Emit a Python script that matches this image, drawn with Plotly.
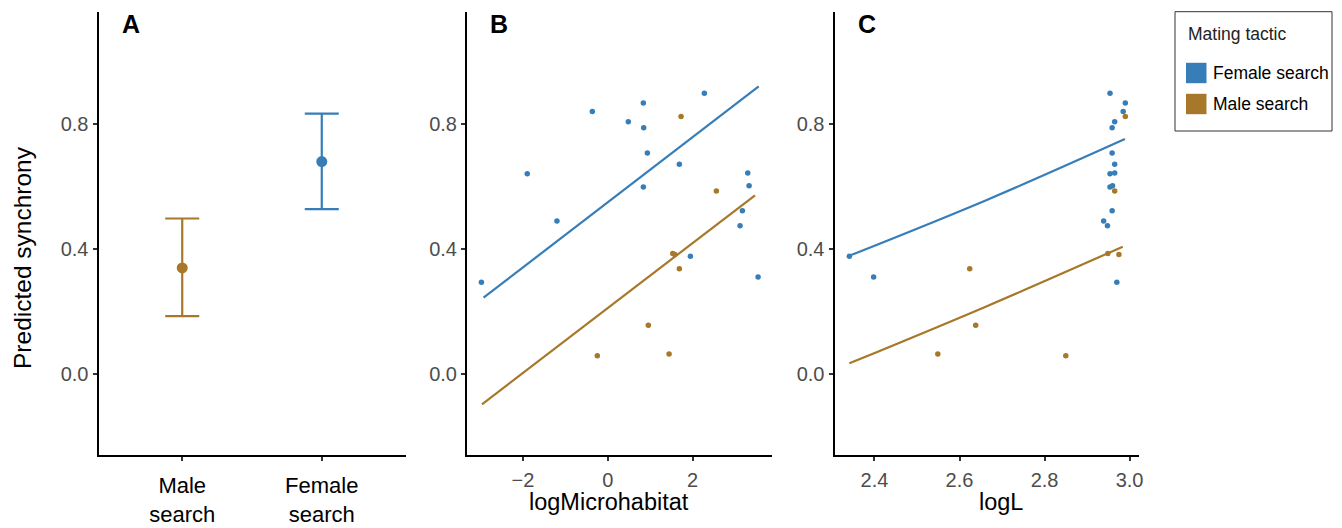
import plotly.graph_objects as go

# ---------------- data ----------------
tactics = ["Male search", "Female search"]
tactic_labels = ["Male<br>search", "Female<br>search"]
pred_mean = [0.339, 0.679]
pred_lo = [0.185, 0.527]
pred_hi = [0.497, 0.832]

# female-search species: synchrony, logMicrohabitat, logL
sync_female = [0.897, 0.866, 0.839, 0.806, 0.787, 0.706, 0.670, 0.642, 0.640,
               0.602, 0.598, 0.522, 0.489, 0.474, 0.376, 0.310, 0.293]
micro_female = [2.276, 0.837, -0.366, 0.483, 0.845, 0.932, 1.686, 3.298, -1.90,
                3.33, 0.837, 3.172, -1.20, 3.117, 1.946, 3.542, -2.98]
logl_female = [2.954, 2.990, 2.985, 2.965, 2.959, 2.959, 2.965, 2.965, 2.954,
               2.960, 2.954, 2.959, 2.939, 2.948, 2.341, 2.398, 2.970]

# male-search species
sync_male = [0.823, 0.585, 0.385, 0.382, 0.336, 0.156, 0.064, 0.058]
micro_male = [1.726, 2.559, 1.53, 1.58, 1.686, 0.955, 1.443, -0.248]
logl_male = [2.990, 2.965, 2.949, 2.975, 2.624, 2.638, 2.549, 2.850]

# fitted lines (panel B)
fit_b_x_female = [-2.93, 3.557]
fit_b_y_female = [0.244, 0.919]
fit_b_x_male = [-2.967, 3.47]
fit_b_y_male = [-0.097, 0.571]
# fitted lines (panel C)
fit_c_x_female = [2.341, 2.667, 2.989]
fit_c_y_female = [0.378, 0.558, 0.751]
fit_c_x_male = [2.341, 2.663, 2.984]
fit_c_y_male = [0.034, 0.216, 0.407]

y_ticks = [0.0, 0.4, 0.8]
y_ticktext = ["0.0", "0.4", "0.8"]
b_ticks = [-2, 0, 2]
b_ticktext = ["\u22122", "0", "2"]
c_ticks = [2.4, 2.6, 2.8, 3.0]
c_ticktext = ["2.4", "2.6", "2.8", "3.0"]

BLUE = "#377EB8"
BROWN = "#A8782A"
colors = {"Male search": BROWN, "Female search": BLUE}

# ---------------- layout helpers ----------------
OFF = 8  # page body margin (top/left)
W, H = 1342 - OFF, 528 - OFF
FONT = "Liberation Sans, Arial, sans-serif"


def px(x):
    return (x - OFF) / W


def py(y):
    return 1 - (y - OFF) / H


panels = {"A": (98.5, 405.5), "B": (467.0, 772.0), "C": (834.5, 1138.5)}
Y_TOP, Y_BOT = 12.0, 455.0
y_dom = [py(Y_BOT), py(Y_TOP)]
y_range = [-0.259, 1.157]

fig = go.Figure()

# Panel A
for i, t in enumerate(tactics):
    fig.add_trace(go.Scatter(
        x=[t], y=[pred_mean[i]], mode="markers",
        marker=dict(color=colors[t], size=11),
        error_y=dict(type="data", symmetric=False,
                     array=[pred_hi[i] - pred_mean[i]],
                     arrayminus=[pred_mean[i] - pred_lo[i]],
                     color=colors[t], thickness=2.2, width=17),
        xaxis="x", yaxis="y", showlegend=False, hoverinfo="skip"))

# Panel B
fig.add_trace(go.Scatter(x=fit_b_x_female, y=fit_b_y_female, mode="lines",
                         line=dict(color=BLUE, width=2.2), xaxis="x2", yaxis="y2", showlegend=False))
fig.add_trace(go.Scatter(x=fit_b_x_male, y=fit_b_y_male, mode="lines",
                         line=dict(color=BROWN, width=2.2), xaxis="x2", yaxis="y2", showlegend=False))
fig.add_trace(go.Scatter(x=micro_female, y=sync_female, mode="markers",
                         marker=dict(color=BLUE, size=5.5), xaxis="x2", yaxis="y2", showlegend=False))
fig.add_trace(go.Scatter(x=micro_male, y=sync_male, mode="markers",
                         marker=dict(color=BROWN, size=5.5), xaxis="x2", yaxis="y2", showlegend=False))

# Panel C
fig.add_trace(go.Scatter(x=fit_c_x_female, y=fit_c_y_female, mode="lines", line_shape="spline",
                         line=dict(color=BLUE, width=2.2), xaxis="x3", yaxis="y3", showlegend=False))
fig.add_trace(go.Scatter(x=fit_c_x_male, y=fit_c_y_male, mode="lines", line_shape="spline",
                         line=dict(color=BROWN, width=2.2), xaxis="x3", yaxis="y3", showlegend=False))
fig.add_trace(go.Scatter(x=logl_female, y=sync_female, mode="markers",
                         marker=dict(color=BLUE, size=5.5), xaxis="x3", yaxis="y3", showlegend=False))
fig.add_trace(go.Scatter(x=logl_male, y=sync_male, mode="markers",
                         marker=dict(color=BROWN, size=5.5), xaxis="x3", yaxis="y3", showlegend=False))

axis_common = dict(showline=True, linecolor="black", linewidth=2, showgrid=False, zeroline=False,
                   ticks="outside", ticklen=4, tickwidth=2, tickcolor="#333333", automargin=False)
tickfont = dict(family=FONT, size=20, color="#4d4d4d")


def ydict(anchor):
    return dict(axis_common, domain=y_dom, range=y_range, tickvals=y_ticks, ticktext=y_ticktext,
                tickfont=tickfont, anchor=anchor)


fig.update_layout(
    width=W, height=H,
    margin=dict(l=0, r=0, t=0, b=0, autoexpand=False),
    paper_bgcolor="white", plot_bgcolor="white",
    font=dict(family=FONT),
    xaxis=dict(axis_common, domain=[px(panels["A"][0]), px(panels["A"][1])], type="category",
               range=[-0.6, 1.6], tickvals=tactics, ticktext=tactic_labels, ticklabelstandoff=6,
               tickfont=dict(family=FONT, size=22, color="black"), anchor="y"),
    yaxis=ydict("x"),
    xaxis2=dict(axis_common, domain=[px(panels["B"][0]), px(panels["B"][1])],
                range=[-3.32, 3.87], tickvals=b_ticks, ticktext=b_ticktext, ticklabelstandoff=2,
                tickfont=tickfont, anchor="y2"),
    yaxis2=ydict("x2"),
    xaxis3=dict(axis_common, domain=[px(panels["C"][0]), px(panels["C"][1])],
                range=[2.306, 3.021], tickvals=c_ticks, ticktext=c_ticktext, ticklabelstandoff=2,
                tickfont=tickfont, anchor="y3"),
    yaxis3=ydict("x3"),
)

ann = []
# panel letters
for k, (x0, x1) in panels.items():
    ann.append(dict(text=f"<b>{k}</b>", x=px(x0 + 21), y=py(23.5), xref="paper", yref="paper",
                    xanchor="left", yanchor="middle", showarrow=False,
                    font=dict(family=FONT, size=25, color="black")))
# axis titles
ann.append(dict(text="Predicted synchrony", x=px(22), y=py(258), xref="paper", yref="paper",
                textangle=-90, showarrow=False, xanchor="center", yanchor="middle",
                font=dict(family=FONT, size=24.5, color="black")))
ann.append(dict(text="logMicrohabitat", x=px(608.7), y=py(502),
                xref="paper", yref="paper", showarrow=False, xanchor="center", yanchor="middle",
                font=dict(family=FONT, size=23.5, color="black")))
ann.append(dict(text="logL", x=px(1001), y=py(502),
                xref="paper", yref="paper", showarrow=False, xanchor="center", yanchor="middle",
                font=dict(family=FONT, size=23.5, color="black")))
# legend
ann.append(dict(text="Mating tactic", x=px(1186), y=py(33.5), xref="paper", yref="paper",
                showarrow=False, xanchor="left", yanchor="middle",
                font=dict(family=FONT, size=17.5, color="#222222")))
legend_items = [("Female search", BLUE, 73), ("Male search", BROWN, 104)]
shapes = [dict(type="rect", xref="paper", yref="paper", x0=px(1175), x1=px(1332),
               y0=py(131), y1=py(11.7), line=dict(color="#333333", width=1))]
for name, col, yc in legend_items:
    shapes.append(dict(type="rect", xref="paper", yref="paper", x0=px(1186), x1=px(1206.5),
                       y0=py(yc + 10.2), y1=py(yc - 10.2), line=dict(width=0), fillcolor=col))
    ann.append(dict(text=name, x=px(1211), y=py(yc), xref="paper", yref="paper",
                    showarrow=False, xanchor="left", yanchor="middle",
                    font=dict(family=FONT, size=17.5, color="black")))

fig.update_layout(annotations=ann, shapes=shapes)
fig.write_html("out.html")
